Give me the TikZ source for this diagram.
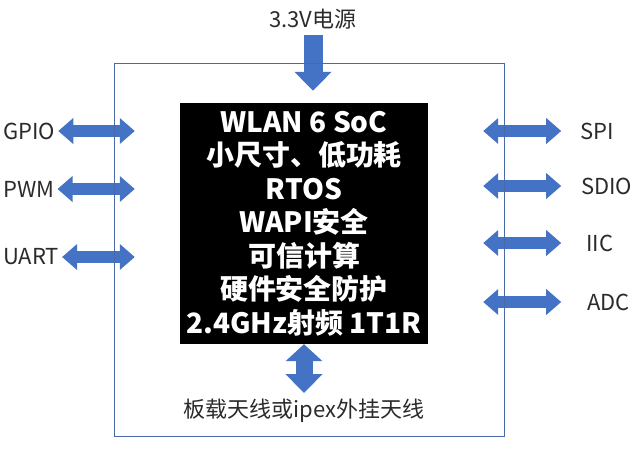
\documentclass[tikz,border=0pt]{standalone}
\usepackage{fontspec}
\setmainfont{Noto Sans CJK SC}
\usepackage{xcolor}
\definecolor{arrowblue}{HTML}{4472C4}
\definecolor{framecolor}{HTML}{4A69A8}
\definecolor{labelcolor}{HTML}{2B2B2B}
\usetikzlibrary{arrows.meta, positioning, calc}

\begin{document}
\begin{tikzpicture}
        [
          x=1pt, y=-1pt,
          every node/.style={align=center, inner sep=2pt},
          label/.style={font=\fontsize{22}{26}\selectfont, text=labelcolor},
          board/.style={minimum width=389pt, minimum height=372pt, inner sep=0pt},
          chip/.style={fill=black, text=white, minimum width=248pt, minimum height=241pt,
                       inner sep=0pt, font=\bfseries\fontsize{28}{33.5}\selectfont},
          bus/.style={arrowblue, line width=12pt,
                      {Triangle[width=25pt,length=15pt]}-{Triangle[width=25pt,length=15pt]}},
          feed/.style={arrowblue, line width=19pt, -{Triangle[width=36pt,length=19pt]}},
          antbus/.style={arrowblue, line width=17pt,
                         {Triangle[width=36pt,length=17pt]}-{Triangle[width=36pt,length=19pt]}},
          frame/.style={draw=framecolor, line width=0.8pt}
        ]
        \useasboundingbox (0,0) rectangle (641,448);

        \node[board] (board) at (309.5,250) {};
        \node[chip] (chip) at (304,223.5)
          {WLAN 6 SoC\\小尺寸、低功耗\\RTOS\\WAPI安全\\可信计算\\硬件安全防护\\2.4GHz射频 1T1R};

        \node[label] (power) at (313,19) {3.3V电源};
        \node[label] (antenna) at (304,411) {板载天线或ipex外挂天线};

        \node[label, anchor=west] (gpio) at (1,131) {GPIO};
        \node[label, anchor=west] (pwm) at (1,189) {PWM};
        \node[label, anchor=west] (uart) at (1,257) {UART};

        \node[label, anchor=west] (spi) at (578,131) {SPI};
        \node[label, anchor=west] (sdio) at (579,186) {SDIO};
        \node[label, anchor=west] (iic) at (584,243) {IIC};
        \node[label, anchor=west] (adc) at (585,302) {ADC};

        \foreach \port in {gpio, pwm, uart}
          \draw[bus] ([xshift=1pt]\port.east) -- ([xshift=20pt]\port.east -| board.west);
        \foreach \port in {spi, sdio, iic, adc}
          \draw[bus] ([xshift=-21pt]\port.west -| board.east) -- ([xshift=57pt]\port.west -| board.east);

        \draw[feed] ([yshift=-4pt]power.south) -- ([yshift=-27pt]power.south |- board.north);
        \draw[antbus] (chip.south) -- ([yshift=4pt]antenna.north);

        \draw[frame] (board.north west) rectangle (board.south east);
      \end{tikzpicture}
\end{document}
